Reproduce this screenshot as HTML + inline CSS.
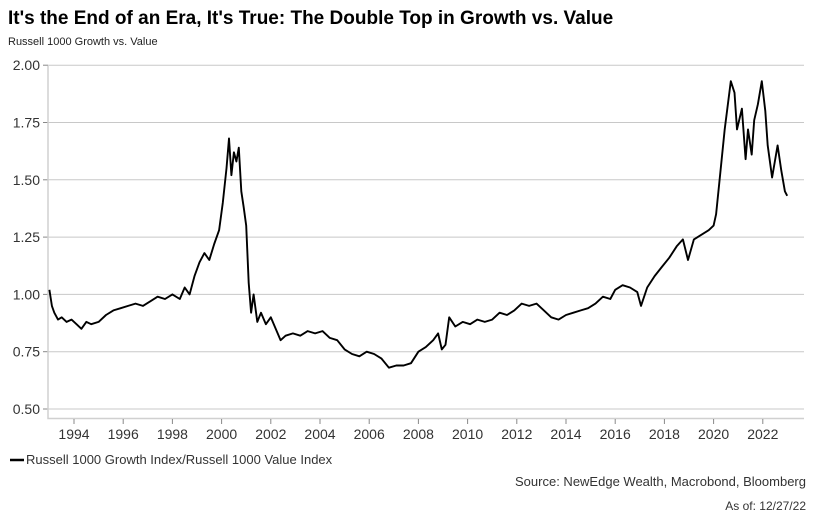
<!DOCTYPE html>
<html><head><meta charset="utf-8"><style>
body{margin:0;background:#fff;font-family:"Liberation Sans",Arial,sans-serif;}
svg{display:block}
</style></head><body>
<svg id="chart" width="818" height="526">
<text x="8" y="24" font-size="19" font-weight="bold" fill="#000">It's the End of an Era, It's True: The Double Top in Growth vs. Value</text>
<text x="8" y="45" font-size="11" fill="#222">Russell 1000 Growth vs. Value</text>
<g id="grid"></g>
<g id="axes"></g>
<path id="line" fill="none" stroke="#000" stroke-width="1.9" stroke-linejoin="round"/>
<line x1="10" y1="460" x2="24" y2="460" stroke="#000" stroke-width="2.5"/>
<text x="26" y="464" font-size="13" fill="#333">Russell 1000 Growth Index/Russell 1000 Value Index</text>
<text x="806" y="486" font-size="13" fill="#333" text-anchor="end">Source: NewEdge Wealth, Macrobond, Bloomberg</text>
<text x="806" y="510" font-size="12" fill="#333" text-anchor="end">As of: 12/27/22</text>
</svg>
<script>
const years=[1993.0,1993.1,1993.2,1993.35,1993.5,1993.7,1993.9,1994.1,1994.3,1994.5,1994.7,1995.0,1995.3,1995.6,1995.9,1996.2,1996.5,1996.8,1997.1,1997.4,1997.7,1998.0,1998.3,1998.5,1998.7,1998.9,1999.1,1999.3,1999.5,1999.7,1999.9,2000.05,2000.2,2000.3,2000.4,2000.5,2000.6,2000.7,2000.8,2000.9,2001.0,2001.1,2001.2,2001.3,2001.45,2001.6,2001.8,2002.0,2002.2,2002.4,2002.6,2002.9,2003.2,2003.5,2003.8,2004.1,2004.4,2004.7,2005.0,2005.3,2005.6,2005.9,2006.2,2006.5,2006.8,2007.1,2007.4,2007.7,2008.0,2008.3,2008.6,2008.8,2008.95,2009.1,2009.25,2009.5,2009.8,2010.1,2010.4,2010.7,2011.0,2011.3,2011.6,2011.9,2012.2,2012.5,2012.8,2013.1,2013.4,2013.7,2014.0,2014.3,2014.6,2014.9,2015.2,2015.5,2015.8,2016.0,2016.3,2016.6,2016.9,2017.05,2017.3,2017.6,2017.9,2018.2,2018.5,2018.75,2018.96,2019.2,2019.5,2019.8,2020.0,2020.1,2020.3,2020.45,2020.7,2020.85,2020.95,2021.15,2021.3,2021.4,2021.55,2021.65,2021.8,2021.96,2022.1,2022.2,2022.38,2022.6,2022.75,2022.9,2022.99];
const values=[1.02,0.95,0.92,0.89,0.90,0.88,0.89,0.87,0.85,0.88,0.87,0.88,0.91,0.93,0.94,0.95,0.96,0.95,0.97,0.99,0.98,1.00,0.98,1.03,1.00,1.08,1.14,1.18,1.15,1.22,1.28,1.40,1.55,1.68,1.52,1.62,1.58,1.64,1.45,1.38,1.30,1.05,0.92,1.00,0.88,0.92,0.87,0.90,0.85,0.80,0.82,0.83,0.82,0.84,0.83,0.84,0.81,0.80,0.76,0.74,0.73,0.75,0.74,0.72,0.68,0.69,0.69,0.70,0.75,0.77,0.80,0.83,0.76,0.78,0.90,0.86,0.88,0.87,0.89,0.88,0.89,0.92,0.91,0.93,0.96,0.95,0.96,0.93,0.90,0.89,0.91,0.92,0.93,0.94,0.96,0.99,0.98,1.02,1.04,1.03,1.01,0.95,1.03,1.08,1.12,1.16,1.21,1.24,1.15,1.24,1.26,1.28,1.30,1.35,1.56,1.72,1.93,1.88,1.72,1.81,1.59,1.72,1.61,1.76,1.83,1.93,1.80,1.65,1.51,1.65,1.54,1.45,1.43];
const yTicks=[0.50,0.75,1.00,1.25,1.50,1.75,2.00];
const xTicks=[1994,1996,1998,2000,2002,2004,2006,2008,2010,2012,2014,2016,2018,2020,2022];
const X=y=>74+(y-1994)*24.6;
const Y=v=>409-(v-0.5)*229.2;
const ns="http://www.w3.org/2000/svg";
const grid=document.getElementById('grid'),axes=document.getElementById('axes');
yTicks.forEach(t=>{
 const l=document.createElementNS(ns,'line');
 l.setAttribute('x1',48);l.setAttribute('x2',804);l.setAttribute('y1',Y(t));l.setAttribute('y2',Y(t));
 l.setAttribute('stroke','#c8c8c8');l.setAttribute('stroke-width','1');
 
 
 grid.appendChild(l);
 const tk=document.createElementNS(ns,'line');
 tk.setAttribute('x1',43);tk.setAttribute('x2',48);tk.setAttribute('y1',Y(t));tk.setAttribute('y2',Y(t));
 tk.setAttribute('stroke','#888');
 
 
 axes.appendChild(tk);
 const tx=document.createElementNS(ns,'text');
 tx.setAttribute('x',40);tx.setAttribute('y',Y(t)+5);tx.setAttribute('text-anchor','end');
 tx.setAttribute('font-size','14');tx.setAttribute('fill','#333');tx.textContent=t.toFixed(2);
 
 
 axes.appendChild(tx);
});
const ax=document.createElementNS(ns,'path');
ax.setAttribute('d','M48,66V418.5H804');ax.setAttribute('fill','none');ax.setAttribute('stroke','#d0d0d0');ax.setAttribute('stroke-width','1.5');


axes.appendChild(ax);
xTicks.forEach(t=>{
 const tk=document.createElementNS(ns,'line');
 tk.setAttribute('x1',X(t));tk.setAttribute('x2',X(t));tk.setAttribute('y1',419);tk.setAttribute('y2',424);
 tk.setAttribute('stroke','#888');
 
 
 axes.appendChild(tk);
 const tx=document.createElementNS(ns,'text');
 tx.setAttribute('x',X(t));tx.setAttribute('y',439);tx.setAttribute('text-anchor','middle');
 tx.setAttribute('font-size','14');tx.setAttribute('fill','#333');tx.textContent=t;
 
 
 axes.appendChild(tx);
});
document.getElementById('line').setAttribute('d',years.map((y,i)=>(i?'L':'M')+X(y).toFixed(1)+','+Y(values[i]).toFixed(1)).join(''));
</script>
</body></html>
